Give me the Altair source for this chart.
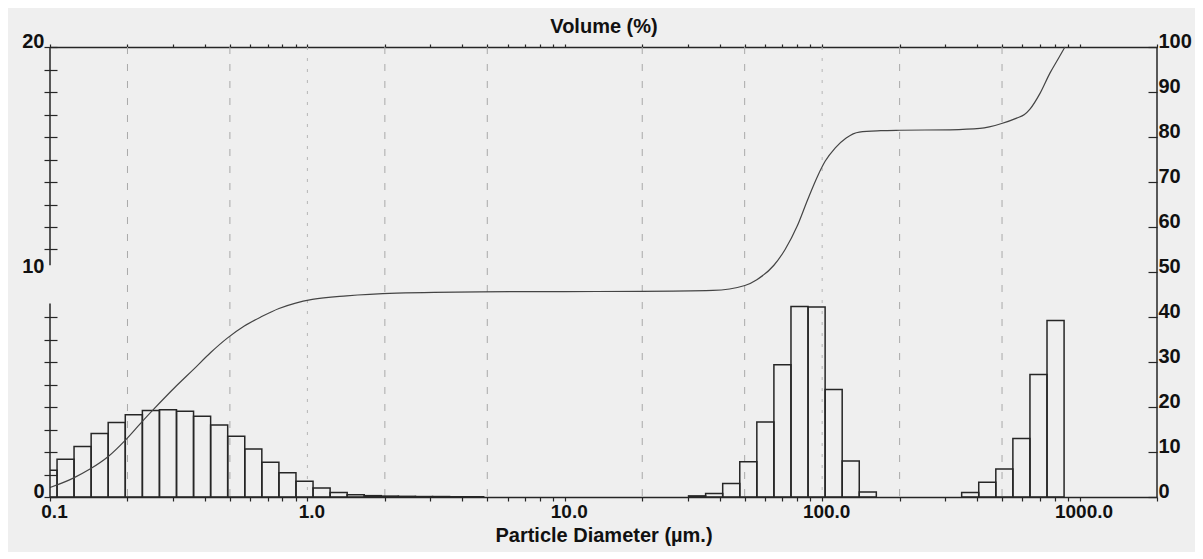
import altair as alt
import pandas as pd

# ---------------- data ----------------
# size-class edges (µm) and volume (%) of the fine mode
fine_edges = [0.0914, 0.1065, 0.1240, 0.1445, 0.1683, 0.1961, 0.2285, 0.2662, 0.3101,
              0.3612, 0.4208, 0.4902, 0.5711, 0.6653, 0.7751, 0.9030, 1.0520, 1.2255,
              1.4277, 1.6632, 1.9376, 2.2573, 2.6297, 3.0636, 3.5690, 4.1578, 4.8437]
fine_vol = [1.19, 1.68, 2.25, 2.82, 3.31, 3.66, 3.84, 3.88, 3.81, 3.59, 3.20, 2.70, 2.13,
            1.54, 1.08, 0.70, 0.40, 0.20, 0.10, 0.06, 0.04, 0.03, 0.02, 0.02, 0.01, 0.01]

# middle mode
mid_edges = [30.27, 35.26, 41.08, 47.86, 55.75, 64.95, 75.67, 88.15, 102.70, 119.64,
             139.38, 162.37]
mid_vol = [0.05, 0.16, 0.60, 1.57, 3.33, 5.88, 8.47, 8.44, 4.78, 1.60, 0.22]

# coarse mode
coarse_edges = [348.4, 405.9, 472.9, 550.9, 641.8, 747.6, 871.0]
coarse_vol = [0.20, 0.66, 1.25, 2.60, 5.45, 7.85]

# cumulative volume curve (right axis, %)
cum_diam = [0.1, 0.1232, 0.1430, 0.1684, 0.1968, 0.2284, 0.2519, 0.3087, 0.3603, 0.4210,
            0.4884, 0.5687, 0.6644, 0.7757, 0.9004, 1.045, 1.421, 2.223, 4.684, 19.9,
            37.6, 50.1, 55.75, 64.95, 71.8, 80.0, 88.15, 96.0, 102.7, 112.5, 124.0,
            139.4, 168.9, 200.5, 313.8, 410.3, 498.2, 569.8, 611.0, 641.9, 702.2,
            767.4, 826.6, 877.6]
cum_pct = [2.1, 4.2, 6.2, 9.0, 12.7, 16.8, 19.4, 24.6, 28.3, 32.1,
           35.3, 38.0, 40.1, 41.9, 43.1, 43.9, 44.7, 45.3, 45.6, 45.7,
           45.9, 47.0, 48.3, 51.5, 55.0, 60.2, 66.3, 71.3, 74.6, 77.6, 79.8,
           81.1, 81.4, 81.5, 81.6, 81.9, 83.0, 84.2, 85.0, 86.2, 89.7,
           94.2, 97.4, 100.0]

# axes / reference lines
x_ticks = [0.1, 0.2, 0.3, 0.4, 0.5, 0.6, 0.7, 0.8, 0.9,
           1, 2, 3, 4, 5, 6, 7, 8, 9,
           10, 20, 30, 40, 50, 60, 70, 80, 90,
           100, 200, 300, 400, 500, 600, 700, 800, 900,
           1000, 2000]
grid_dashed = [0.2, 0.5, 2, 5, 20, 50, 200, 500]
grid_dotted = [1, 100]
left_ticks = list(range(0, 21))
right_ticks = [0, 10, 20, 30, 40, 50, 60, 70, 80, 90, 100]
left_line_lo = [0, 10.3]
left_line_hi = [8.6, 20]

# ---------------- tables ----------------
lo, hi, vol = [], [], []
for edges, vals in [(fine_edges, fine_vol), (mid_edges, mid_vol), (coarse_edges, coarse_vol)]:
    lo += edges[:-1]
    hi += edges[1:]
    vol += vals
bars_df = pd.DataFrame({"lo": lo, "hi": hi, "vol": vol})
cum_df = pd.DataFrame({"d": cum_diam, "cum": cum_pct})

FONT = "Liberation Sans"
INK = "#262626"
X_SCALE = alt.Scale(type="log", domain=[0.1, 2000], nice=False)
YL_SCALE = alt.Scale(domain=[0, 20], nice=False, zero=False)
YR_SCALE = alt.Scale(domain=[0, 100], nice=False, zero=False)

decade_expr = ("abs(log(datum.value)/LN10 - round(log(datum.value)/LN10)) < 0.001"
               " ? format(datum.value, '.1f') : ''")

grid1 = alt.Chart(pd.DataFrame({"g": grid_dashed})).mark_rule(
    color="#a9a9a9", strokeWidth=1, strokeDash=[7, 10]
).encode(x=alt.X("g:Q", scale=X_SCALE, axis=None))

grid2 = alt.Chart(pd.DataFrame({"g": grid_dotted})).mark_rule(
    color="#b5b5b5", strokeWidth=1, strokeDash=[3, 8]
).encode(x=alt.X("g:Q", scale=X_SCALE, axis=None))

bars = alt.Chart(bars_df).mark_rect(
    fill="#efefef", fillOpacity=0, stroke=INK, strokeWidth=1.5, clip=True
).encode(
    x=alt.X("lo:Q", scale=X_SCALE, axis=alt.Axis(
        orient="bottom", values=x_ticks, labelExpr=decade_expr, grid=False,
        tickSize=4, tickWidth=1.2, tickColor=INK, domainColor=INK, domainWidth=1.5,
        labelFont=FONT, labelFontSize=19, labelFontWeight="bold", labelColor="#111",
        labelPadding=1, labelOffset=4, labelFlush=False, labelOverlap=False,
        title="Particle Diameter (µm.)", titleFont=FONT, titleFontSize=20,
        titleFontWeight="bold", titleColor="#111", titlePadding=4)),
    x2="hi:Q",
    y=alt.Y("vol:Q", scale=YL_SCALE, axis=alt.Axis(
        orient="left", values=left_ticks, grid=False, domain=False, offset=-7,
        tickSize=13, tickWidth=1.2, tickColor=INK,
        tickOpacity={"condition": {"test": "datum.value == 9 || datum.value == 10", "value": 0},
                     "value": 1},
        labelExpr="datum.value % 10 == 0 ? datum.label : ''",
        labelFont=FONT, labelFontSize=20, labelFontWeight="bold", labelColor="#111",
        labelPadding=0, labelBaseline="alphabetic", labelOverlap=False, title=None)),
    y2=alt.datum(0),
)

curve = alt.Chart(cum_df).mark_line(
    color="#444444", strokeWidth=1.2, interpolate="monotone"
).encode(
    x=alt.X("d:Q", scale=X_SCALE, axis=alt.Axis(
        orient="top", values=x_ticks, labels=False, grid=False, tickSize=3,
        tickWidth=1.2, tickColor=INK, domainColor=INK, domainWidth=1.5,
        title="Volume (%)", titleFont=FONT, titleFontSize=20, titleFontWeight="bold",
        titleColor="#111", titleBaseline="alphabetic", titlePadding=11)),
    y=alt.Y("cum:Q", scale=YR_SCALE, axis=alt.Axis(
        orient="right", values=right_ticks, grid=False, domain=False, offset=-9,
        tickSize=9, tickWidth=1.2, tickColor=INK,
        labelFont=FONT, labelFontSize=20, labelFontWeight="bold", labelColor="#111",
        labelPadding=1, labelBaseline="alphabetic", labelOverlap=False, title=None)),
)

left_line = alt.Chart(pd.DataFrame({"x": [0.1, 0.1], "a": left_line_lo, "b": left_line_hi})).mark_rule(
    color=INK, strokeWidth=1.5
).encode(
    x=alt.X("x:Q", scale=X_SCALE, axis=None),
    y=alt.Y("a:Q", scale=YL_SCALE, axis=None),
    y2="b:Q",
)

right_line = alt.Chart(pd.DataFrame({"x": [2000]})).mark_rule(
    color=INK, strokeWidth=1.5
).encode(x=alt.X("x:Q", scale=X_SCALE, axis=None))

chart = alt.layer(grid1, grid2, bars, curve, left_line, right_line).resolve_scale(
    y="independent"
).resolve_axis(
    x="independent", y="independent"
).properties(
    width=1107, height=450,
    autosize=alt.AutoSizeParams(type="none"),
    padding={"left": 42, "top": 39, "right": 38, "bottom": 55},
    background="#efefef",
).configure_view(stroke=None)

chart.save("out.html", embed_options={"renderer": "svg", "actions": False})
